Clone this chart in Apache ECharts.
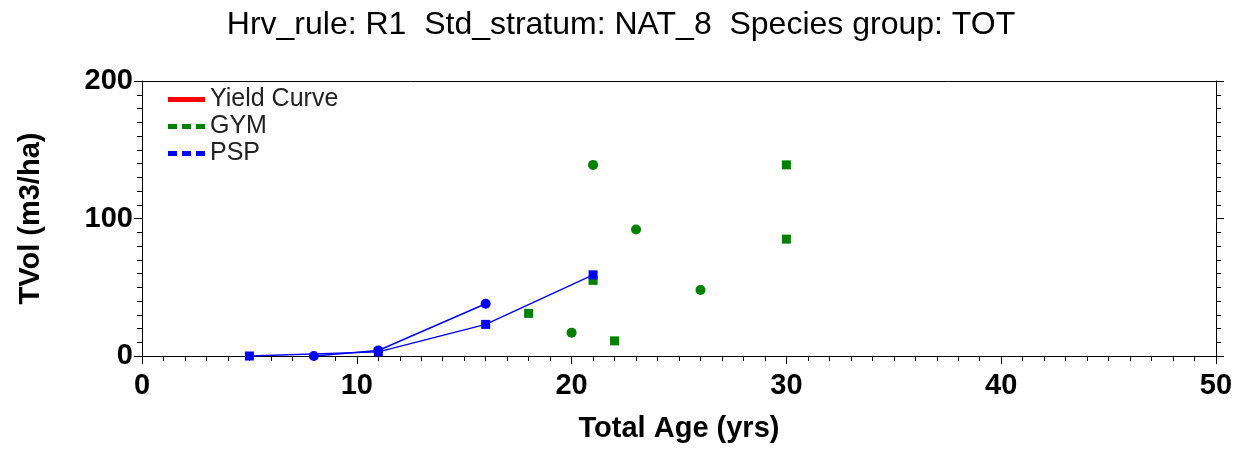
<!DOCTYPE html>
<html>
<head>
<meta charset="utf-8">
<script src="https://cdn.jsdelivr.net/npm/echarts@6/dist/echarts.min.js"></script>
<style>
html,body{margin:0;padding:0;background:#fff;}
#c{width:1242px;height:453px;}
</style>
</head>
<body>
<div id="c"></div>
<script>
// ---- data ----
const titleText = 'Hrv_rule: R1  Std_stratum: NAT_8  Species group: TOT';
const xName = 'Total Age (yrs)';
const yName = 'TVol (m3/ha)';
const legendNames = ['Yield Curve', 'GYM', 'PSP'];

// Yield curve (no values drawn in reference)
const yieldAge = [];
const yieldVol = [];

// GYM observations, split by plot group
const gymSquareAge = [18, 21, 22, 30, 30];
const gymSquareVol = [31, 55, 11, 139, 85];
const gymCircleAge = [20, 21, 23, 26];
const gymCircleVol = [17, 139, 92, 48];

// PSP plots (connected remeasurements)
const psp1Age = [5, 11, 16, 21];
const psp1Vol = [0, 3, 23, 59];
const psp2Age = [8, 11, 16];
const psp2Vol = [0, 4, 38];

const xMin = 0, xMax = 50, xStep = 10;
const yMin = 0, yMax = 200, yStep = 100;

function pairs(a, b) { return a.map((v, i) => [v, b[i]]); }

const FONT = '"Liberation Sans", Arial, sans-serif';
const dashIcon = 'path://M0,0h9v5h-9z M14,0h9v5h-9z M28,0h9v5h-9z';
const solidIcon = 'path://M0,0h37v5h-37z';

const chart = echarts.init(document.getElementById('c'), null, {renderer: 'canvas'});
const axisLine = {show: true, onZero: false, lineStyle: {color: '#000', width: 1}};
const labelStyle = {fontFamily: FONT, fontSize: 29, fontWeight: 'bold', color: '#000'};

chart.setOption({
  animation: false,
  backgroundColor: '#fff',
  title: {
    text: titleText, left: 'center', top: 4,
    textStyle: {fontFamily: FONT, fontSize: 32, fontWeight: 'normal', color: '#000'}
  },
  grid: {left: 142, right: 26, top: 81, bottom: 97, containLabel: false},
  legend: {
    orient: 'vertical', left: 168, top: 87, padding: 0,
    itemWidth: 37, itemHeight: 5, itemGap: 2,
    textStyle: {fontFamily: FONT, fontSize: 25, color: '#222', padding: [0, 0, 0, 0]},
    data: [
      {name: legendNames[0], icon: solidIcon, itemStyle: {color: '#ff0000'}},
      {name: legendNames[1], icon: dashIcon, itemStyle: {color: '#008000'}},
      {name: legendNames[2], icon: dashIcon, itemStyle: {color: '#0000ff'}}
    ]
  },
  xAxis: [{
    type: 'value', min: xMin, max: xMax, interval: xStep, position: 'bottom',
    name: xName, nameLocation: 'middle', nameGap: 58,
    nameTextStyle: labelStyle,
    axisLine: axisLine,
    axisTick: {show: true, inside: false, length: 8, lineStyle: {color: '#000'}},
    minorTick: {show: true, splitNumber: 10, length: 5, lineStyle: {color: '#000'}},
    axisLabel: Object.assign({margin: 15}, labelStyle),
    splitLine: {show: false}
  }, {
    type: 'value', min: xMin, max: xMax, interval: xStep, position: 'top',
    axisLine: axisLine, axisTick: {show: false}, axisLabel: {show: false}, splitLine: {show: false}
  }],
  yAxis: [{
    type: 'value', min: yMin, max: yMax, interval: yStep, position: 'left',
    name: yName, nameLocation: 'middle', nameGap: 97, nameRotate: 90,
    nameTextStyle: labelStyle,
    axisLine: axisLine,
    axisTick: {show: true, inside: false, length: 8, lineStyle: {color: '#000'}},
    minorTick: {show: true, splitNumber: 10, length: 5, lineStyle: {color: '#000'}},
    axisLabel: Object.assign({margin: 9}, labelStyle),
    splitLine: {show: false}
  }, {
    type: 'value', min: yMin, max: yMax, interval: yStep, position: 'right',
    axisLine: axisLine,
    axisTick: {show: true, inside: false, length: 8, lineStyle: {color: '#000'}},
    minorTick: {show: true, splitNumber: 10, length: 5, lineStyle: {color: '#000'}},
    axisLabel: {show: false}, splitLine: {show: false}
  }],
  series: [
    {name: 'Yield Curve', type: 'line', data: pairs(yieldAge, yieldVol),
     itemStyle: {color: '#ff0000'}, lineStyle: {color: '#ff0000', width: 2}, showSymbol: false},
    {name: 'GYM', type: 'scatter', data: pairs(gymSquareAge, gymSquareVol),
     symbol: 'rect', symbolSize: 9, itemStyle: {color: '#008000', opacity: 1}},
    {name: 'GYM', type: 'scatter', data: pairs(gymCircleAge, gymCircleVol),
     symbol: 'circle', symbolSize: 10, itemStyle: {color: '#008000', opacity: 1}},
    {name: 'PSP', type: 'line', data: pairs(psp1Age, psp1Vol),
     symbol: 'rect', symbolSize: 9, showAllSymbol: true,
     itemStyle: {color: '#0000ff'}, lineStyle: {color: '#0000ff', width: 1.5}},
    {name: 'PSP', type: 'line', data: pairs(psp2Age, psp2Vol),
     symbol: 'circle', symbolSize: 10, showAllSymbol: true,
     itemStyle: {color: '#0000ff'}, lineStyle: {color: '#0000ff', width: 1.5}}
  ]
});
</script>
</body>
</html>
